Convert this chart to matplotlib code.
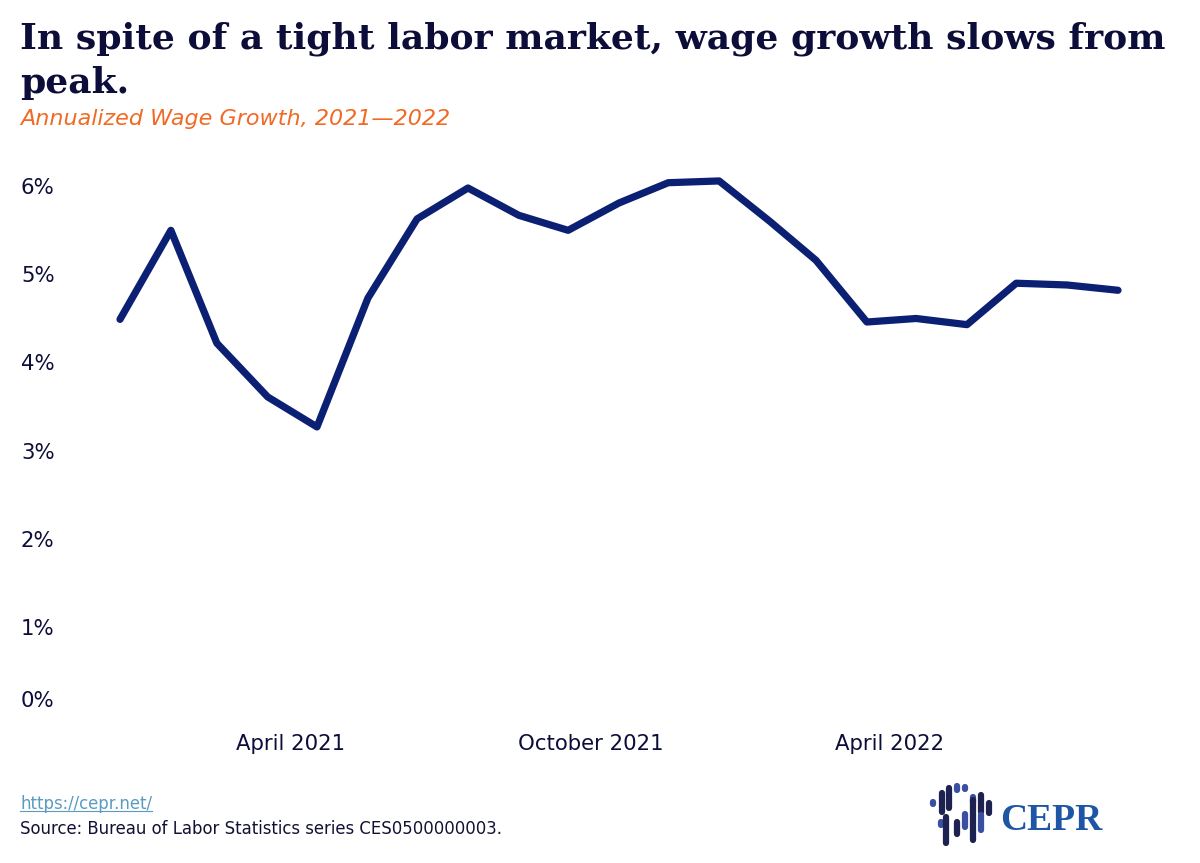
import numpy as np
import pandas as pd
import matplotlib.pyplot as plt
from matplotlib.lines import Line2D

# Annualized wage growth, monthly, Jan 2021 - Sep 2022
months = pd.date_range("2021-01-01", "2022-09-01", freq="MS")
growth = [4.51, 5.52, 4.24, 3.63, 3.29, 4.75, 5.65, 6.00, 5.69, 5.52, 5.83,
          6.06, 6.08, 5.62, 5.18, 4.48, 4.52, 4.45, 4.92, 4.90, 4.84]
tick_dates = pd.to_datetime(["2021-04-15", "2021-10-15", "2022-04-15"])
tick_names = ["April 2021", "October 2021", "April 2022"]
y_ticks = [0, 1, 2, 3, 4, 5, 6]

W, H = 1200, 863
navy = "#0d0d3a"
line_col = "#0b1f73"

fig = plt.figure(figsize=(W / 100, H / 100), dpi=100)
fig.patch.set_facecolor("white")

def fx(px):
    return px / W

def fy(py):
    return 1 - py / H

ax = fig.add_axes([fx(120), fy(717), fx(1118) - fx(120), fy(188) - fy(717)])
ax.plot(months, growth, color=line_col, lw=5.2, solid_capstyle="round",
        solid_joinstyle="round", clip_on=False)
ax.set_xlim(months[0], months[-1])
ax.set_ylim(0, 6)
for s in ax.spines.values():
    s.set_visible(False)
ax.set_xticks(tick_dates)
ax.set_xticklabels(tick_names, fontsize=15.3, color=navy, family="DejaVu Sans")
ax.tick_params(axis="x", length=0, pad=12)
ax.set_yticks([])

# y labels, left aligned at the figure edge (0% nudged up above the date labels)
ax_tr = ax.get_yaxis_transform()
for v in y_ticks:
    yy = v + (0.18 if v == 0 else 0)
    ax.text(-99 / (1118 - 120), yy, f"{v}%", transform=ax_tr, ha="left",
            va="center", fontsize=15.3, color=navy, family="DejaVu Sans")

# titles
fig.text(fx(20), fy(49), "In spite of a tight labor market, wage growth slows from",
         fontsize=26, fontweight="bold", family="DejaVu Serif", color=navy)
fig.text(fx(20), fy(93), "peak.", fontsize=26, fontweight="bold",
         family="DejaVu Serif", color=navy)
fig.text(fx(20), fy(125), "Annualized Wage Growth, 2021\u20142022", fontsize=16,
         style="italic", family="DejaVu Sans", color="#f06a25")

# footer
url = fig.text(fx(20), fy(809), "https://cepr.net/", fontsize=11.9, color="#5a9cc0",
               family="DejaVu Sans")
fig.text(fx(20), fy(834), "Source: Bureau of Labor Statistics series CES0500000003.",
         fontsize=11.9, color="#111133", family="DejaVu Sans")
fig.canvas.draw()
bb = url.get_window_extent()
fig.add_artist(Line2D([bb.x0 / W, bb.x1 / W], [fy(811), fy(811)], color="#5a9cc0", lw=0.8))

# CEPR logo
fig.text(fx(1000), fy(830), "CEPR", fontsize=27, fontweight="bold",
         family="Liberation Serif", color="#1f55a5")
bars = [(933, 802, 804, "#3a4fa0"), (942, 793, 812, "#1e2250"), (949, 788, 808, "#1e2250"),
        (957, 786, 790, "#3a4fa0"), (965, 787, 789, "#3a4fa0"), (973, 797, 802, "#3a4fa0"),
        (981, 795, 812, "#1e2250"), (989, 803, 813, "#1e2250"),
        (941, 822, 825, "#3a4fa0"), (946, 817, 843, "#1e2250"), (957, 822, 834, "#1e2250"),
        (965, 814, 827, "#3a4fa0"), (973, 800, 840, "#1e2250"), (981, 815, 830, "#3a4fa0")]
for bx, y0, y1, c in bars:
    fig.add_artist(Line2D([fx(bx), fx(bx)], [fy(y0), fy(y1)], color=c, lw=4.5,
                          solid_capstyle="round"))

fig.savefig("out.png", dpi=100)
